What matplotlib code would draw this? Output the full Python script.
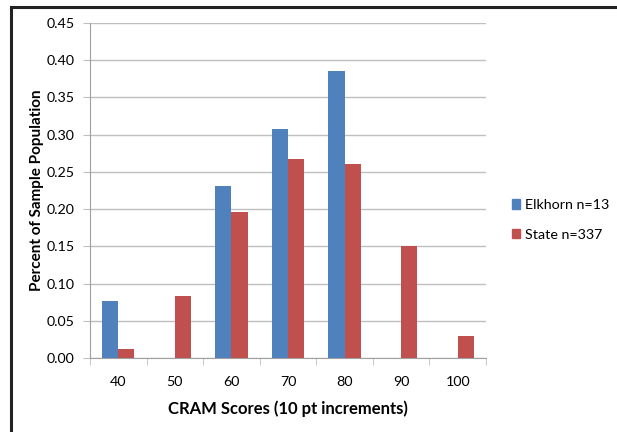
import numpy as np
import matplotlib
matplotlib.use('Agg')
import matplotlib.pyplot as plt
from matplotlib.lines import Line2D
from matplotlib.patches import Patch

plt.rcParams['font.family'] = ['Lato', 'DejaVu Sans']

categories = ['40', '50', '60', '70', '80', '90', '100']
elkhorn = [0.077, 0.0, 0.231, 0.308, 0.385, 0.0, 0.0]
state = [0.012, 0.083, 0.196, 0.267, 0.261, 0.151, 0.030]
yticks = [0.00, 0.05, 0.10, 0.15, 0.20, 0.25, 0.30, 0.35, 0.40, 0.45]

blue = '#4F81BD'
red = '#C0504D'
grid_col = '#BFBFBF'

fig = plt.figure(figsize=(6.17, 4.32), dpi=100)
ax = fig.add_axes([90 / 617, 1 - 358 / 432, 396 / 617, 335 / 432])

x = np.arange(len(categories))
w = 1 / 3.5
ax.bar(x - w / 2, elkhorn, w, color=blue, zorder=3)
ax.bar(x + w / 2, state, w, color=red, zorder=3)

ax.set_xlim(-0.5, len(categories) - 0.5)
ax.set_ylim(0, 0.45)
ax.set_yticks(yticks)
ax.set_yticklabels(['%.2f' % v for v in yticks], fontsize=10.3)
ax.set_xticks(x)
ax.set_xticklabels(categories, fontsize=10.3)
ax.tick_params(axis='x', length=0, pad=13)
ax.tick_params(axis='y', length=5, color=grid_col, pad=6)
# x ticks sit between the categories
ax.set_xticks(np.arange(len(categories) + 1) - 0.5, minor=True)
ax.tick_params(axis='x', which='minor', length=5, color=grid_col)
ax.grid(axis='y', color=grid_col, linewidth=1, zorder=0)

for s in ['top', 'right']:
    ax.spines[s].set_visible(False)
for s in ['left', 'bottom']:
    ax.spines[s].set_color('#A0A0A0')

ax.set_ylabel('Percent of Sample Population', fontsize=11, fontweight='bold', labelpad=2)
ax.set_xlabel('CRAM Scores (10 pt increments)', fontsize=12, fontweight='bold', labelpad=9)

handles = [Patch(color=blue, label='Elkhorn n=13'), Patch(color=red, label='State n=337')]
fig.legend(handles=handles, loc='center left', bbox_to_anchor=(499 / 617, 1 - 220 / 432),
           frameon=False, fontsize=10.3, handlelength=0.6, handleheight=0.6,
           handletextpad=0.35, labelspacing=1.25)

# outer frame (top and left edges)
fig.add_artist(Line2D([11 / 617, 1], [1 - 7 / 432, 1 - 7 / 432], color='#222222', lw=2.2,
                      transform=fig.transFigure))
fig.add_artist(Line2D([11 / 617, 11 / 617], [0, 1 - 7 / 432], color='#222222', lw=2.2,
                      transform=fig.transFigure))

fig.savefig('out.png', dpi=100)
